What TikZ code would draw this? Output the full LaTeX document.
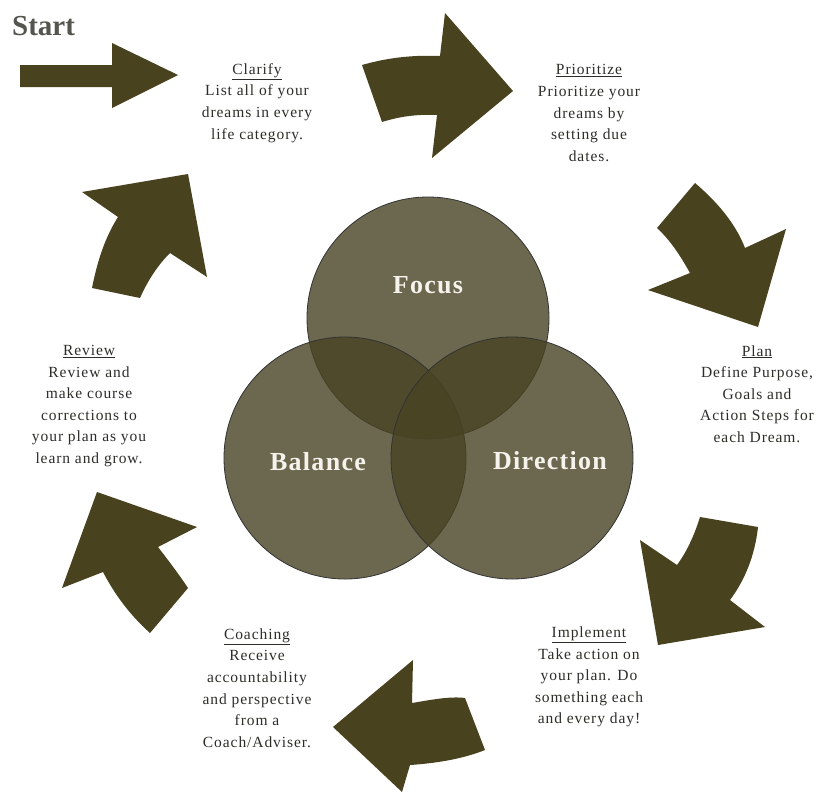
\documentclass[tikz,border=0pt]{standalone}
\usepackage{fontspec}
\setmainfont{Liberation Serif}
\newfontfamily\stepfont{Liberation Serif}[LetterSpace=6]
\newfontfamily\vennfont{Liberation Serif}[LetterSpace=5]
\definecolor{arrowc}{RGB}{72,66,30}
\definecolor{circc}{RGB}{72,67,35}
\definecolor{txtc}{RGB}{45,45,40}
\definecolor{lblc}{RGB}{245,243,235}
\definecolor{startc}{RGB}{85,85,80}
\tikzset{
  blockarrow/.style={fill=arrowc},
  venn/.style={circle, minimum size=242pt, inner sep=0pt, fill=circc, fill opacity=0.8, draw=black!80, draw opacity=1, line width=0.8pt},
  venntext/.style={text=lblc, font=\vennfont\fontsize{26}{28}\selectfont\bfseries, inner sep=0pt},
  steptext/.style={text=txtc, align=center, inner sep=0pt, font=\stepfont\fontsize{15.5}{21.6}\selectfont}
}
\begin{document}
\begin{tikzpicture}[x=1pt,y=-1pt]
\useasboundingbox[fill=white] (0,0) rectangle (824,806);

% Venn circles
\node[venn] (focus) at (428,318) {};
\node[venn] (balance) at (345,458) {};
\node[venn] (direction) at (512,458) {};
\node[venntext] (focuslbl) at (428,285) {Focus};
\node[venntext] (balancelbl) at (318,462) {Balance};
\node[venntext] (directionlbl) at (550,461) {Direction};

% Start arrow
\fill[blockarrow] (20,65) -- (112,65) -- (112,43) -- (178,75) -- (112,108) -- (112,87) -- (20,87) -- cycle;
% top arrow
\fill[blockarrow] (362,65) .. controls (390,57) and (415,55) .. (440,56) -- (445,13) -- (513,91) -- (432,158) -- (437,115)
   .. controls (415,114) and (398,117) .. (382,122) -- cycle;
% upper right arrow
\fill[blockarrow] (695,183) .. controls (715,200) and (735,222) .. (745,248) -- (786,229) -- (758,327) -- (648,290) -- (690,273)
   .. controls (680,255) and (670,240) .. (657,228) -- cycle;
% lower right arrow
\fill[blockarrow] (700,517) -- (758,527) .. controls (755,555) and (745,580) .. (730,600) -- (765,627) -- (658,645) -- (640,540) -- (677,565)
   .. controls (688,550) and (695,533) .. (700,517) -- cycle;
% bottom arrow
\fill[blockarrow] (465,698) .. controls (450,696) and (430,700) .. (412,703) -- (413,660) -- (333,727) -- (402,792) -- (410,765)
   .. controls (440,763) and (465,758) .. (485,750) -- cycle;
% lower left arrow
\fill[blockarrow] (97,492) -- (197,527) -- (158,547) .. controls (168,560) and (178,573) .. (188,588) -- (150,633)
   .. controls (130,615) and (115,595) .. (103,572) -- (62,588) -- cycle;
% upper left arrow
\fill[blockarrow] (82,192) -- (188,174) -- (207,277) -- (170,253) .. controls (158,265) and (148,280) .. (140,298) -- (92,288)
   .. controls (98,258) and (106,236) .. (118,217) -- cycle;

% texts
\node[text=startc, font=\fontsize{29}{31}\selectfont\bfseries, inner sep=0pt, anchor=west] (start) at (12,26) {Start};
\node[steptext] (clarify) at (257,103) {\underline{Clarify}\\List all of your\\dreams in every\\life category.};
\node[steptext] (prioritize) at (589,113) {\underline{Prioritize}\\Prioritize your\\dreams by\\setting due\\dates.};
\node[steptext] (plan) at (757,394) {\underline{Plan}\\Define Purpose,\\Goals and\\Action Steps for\\each Dream.};
\node[steptext] (implement) at (589,677) {\underline{Implement}\\Take action on\\your plan. Do\\something each\\and every day!};
\node[steptext] (coaching) at (257,688) {\underline{Coaching}\\Receive\\accountability\\and perspective\\from a\\Coach/Adviser.};
\node[steptext] (review) at (89,406) {\underline{Review}\\Review and\\make course\\corrections to\\your plan as you\\learn and grow.};
\end{tikzpicture}
\end{document}
